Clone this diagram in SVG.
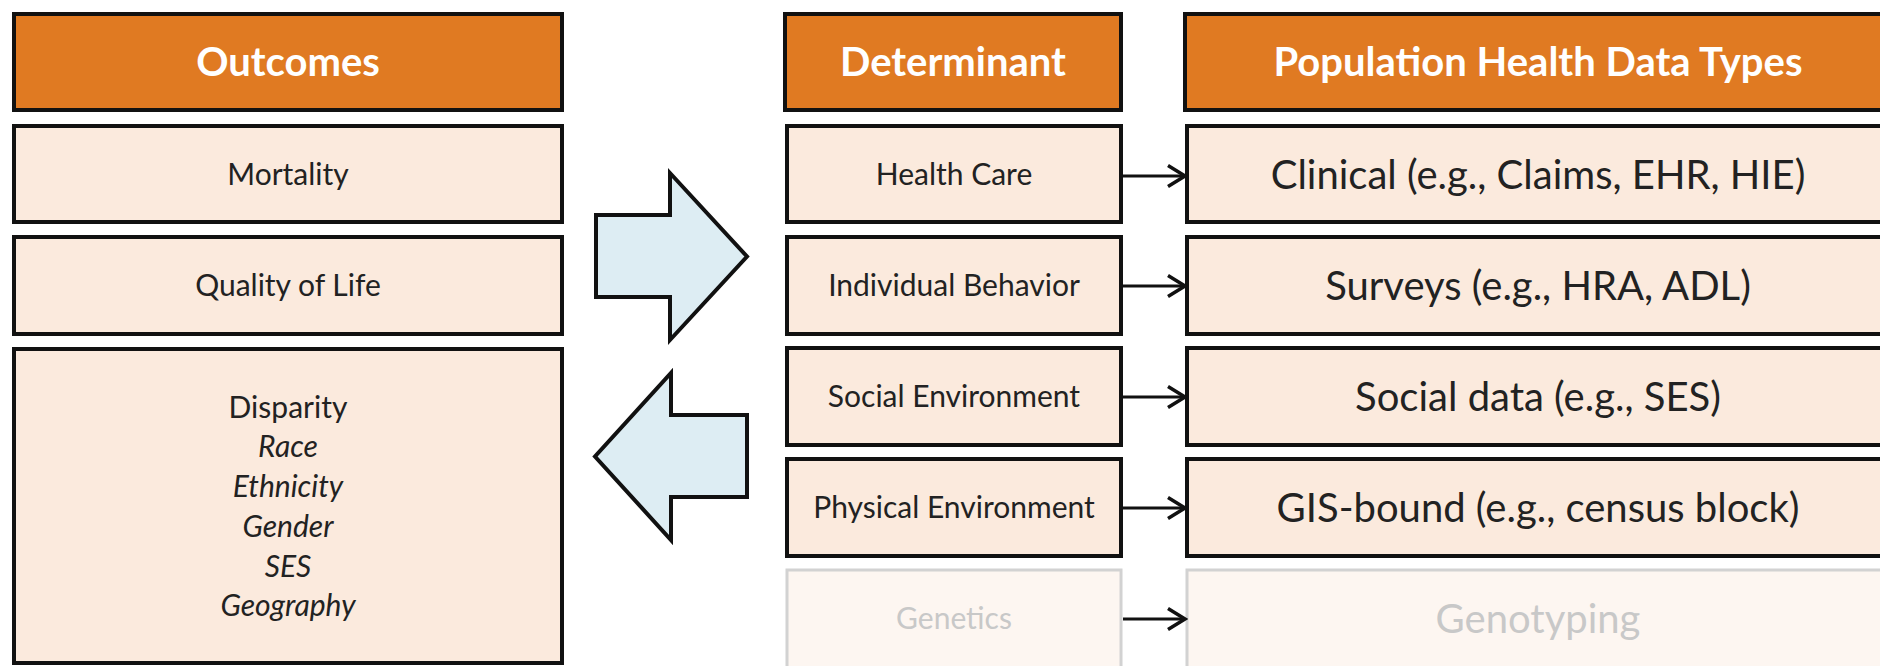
<svg xmlns="http://www.w3.org/2000/svg" width="1880" height="666" viewBox="0 0 1880 666">
<defs>
<style>
.hdr{fill:#E07A22;stroke:#111;stroke-width:4}
.box{fill:#FBEADD;stroke:#111;stroke-width:4}
.faded{fill:#FDF6F1;stroke:#D2D2D2;stroke-width:3}
.ht{font-family:Lato,"Open Sans",sans-serif;font-weight:bold;font-size:40px;fill:#FFFFFF;text-anchor:middle}
.t{font-family:Lato,"Open Sans",sans-serif;font-size:30px;fill:#222;text-anchor:middle}
.tl{font-family:Lato,"Open Sans",sans-serif;font-size:40px;fill:#222;text-anchor:middle}
.it{font-style:italic}
.ft{fill:#C8C8C8}
.big{fill:#DDEDF3;stroke:#111;stroke-width:4;stroke-linejoin:miter}
.conn{stroke:#111;stroke-width:3;fill:none}
</style>
<marker id="chev" markerWidth="22" markerHeight="26" refX="19" refY="12" orient="auto" markerUnits="userSpaceOnUse">
<path d="M2,1.5 L19,12 L2,22.5" fill="none" stroke="#111" stroke-width="3.5"/>
</marker>
</defs>
<rect width="1880" height="666" fill="#FFFFFF"/>

<g id="outcomes-header"><rect class="hdr" x="14" y="14" width="548" height="96"/><text class="ht" x="288" y="76">Outcomes</text></g>
<g id="mortality"><rect class="box" x="14" y="126" width="548" height="96"/><text class="t" x="288" y="185">Mortality</text></g>
<g id="quality"><rect class="box" x="14" y="237" width="548" height="97"/><text class="t" x="288" y="296">Quality of Life</text></g>
<g id="disparity"><rect class="box" x="14" y="349" width="548" height="314"/>
<text class="t" x="288" y="418">Disparity</text>
<text class="t it" x="288" y="457">Race</text>
<text class="t it" x="288" y="497">Ethnicity</text>
<text class="t it" x="288" y="537">Gender</text>
<text class="t it" x="288" y="577">SES</text>
<text class="t it" x="288" y="616">Geography</text>
</g>

<g id="arrow-right"><polygon class="big" points="596,215 670,215 670,173 747,256.5 670,340 670,297 596,297"/></g>
<g id="arrow-left"><polygon class="big" points="747,415 671,415 671,373 595,456.5 671,540 671,497 747,497"/></g>

<g id="determinant-header"><rect class="hdr" x="785" y="14" width="336" height="96"/><text class="ht" x="953" y="76">Determinant</text></g>
<g id="health-care"><rect class="box" x="787" y="126" width="334" height="96"/><text class="t" x="954" y="185">Health Care</text></g>
<g id="individual-behavior"><rect class="box" x="787" y="237" width="334" height="97"/><text class="t" x="954" y="296">Individual Behavior</text></g>
<g id="social-environment"><rect class="box" x="787" y="348" width="334" height="97"/><text class="t" x="954" y="407">Social Environment</text></g>
<g id="physical-environment"><rect class="box" x="787" y="459" width="334" height="97"/><text class="t" x="954" y="518">Physical Environment</text></g>
<g id="genetics"><rect class="faded" x="787" y="570" width="334" height="110"/><text class="t ft" x="954" y="629">Genetics</text></g>

<g id="data-header"><rect class="hdr" x="1185" y="14" width="720" height="96"/><text class="ht" x="1538" y="76">Population Health Data Types</text></g>
<g id="clinical"><rect class="box" x="1187" y="126" width="720" height="96"/><text class="tl" x="1538" y="189">Clinical (e.g., Claims, EHR, HIE)</text></g>
<g id="surveys"><rect class="box" x="1187" y="237" width="720" height="97"/><text class="tl" x="1538" y="300">Surveys (e.g., HRA, ADL)</text></g>
<g id="social-data"><rect class="box" x="1187" y="348" width="720" height="97"/><text class="tl" x="1538" y="411">Social data (e.g., SES)</text></g>
<g id="gis"><rect class="box" x="1187" y="459" width="720" height="97"/><text class="tl" x="1538" y="522">GIS-bound (e.g., census block)</text></g>
<g id="genotyping"><rect class="faded" x="1187" y="570" width="720" height="110"/><text class="tl ft" x="1538" y="633">Genotyping</text></g>

<g id="connectors">
<line class="conn" x1="1123" y1="176" x2="1185" y2="176" marker-end="url(#chev)"/>
<line class="conn" x1="1123" y1="286" x2="1185" y2="286" marker-end="url(#chev)"/>
<line class="conn" x1="1123" y1="397" x2="1185" y2="397" marker-end="url(#chev)"/>
<line class="conn" x1="1123" y1="508" x2="1185" y2="508" marker-end="url(#chev)"/>
<line class="conn" x1="1123" y1="619" x2="1185" y2="619" marker-end="url(#chev)"/>
</g>
</svg>
